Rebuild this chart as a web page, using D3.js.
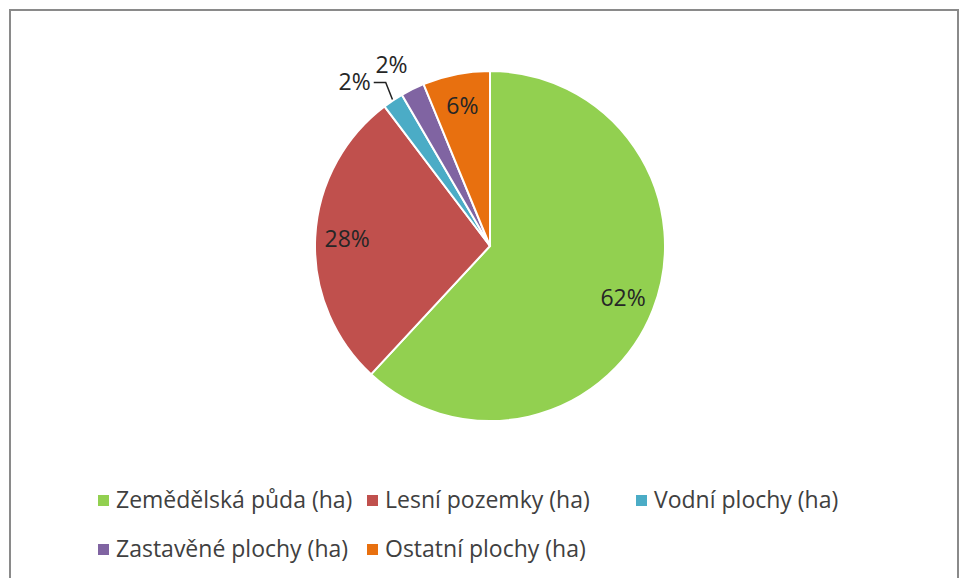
<!DOCTYPE html>
<html>
<head>
<meta charset="utf-8">
<script src="https://cdn.jsdelivr.net/npm/d3@7"></script>
<style>
  body { margin: 0; background: #fff; }
  text { font-family: "Open Sans", Lato, sans-serif; }
</style>
</head>
<body>
<div id="chart"></div>
<script>
// data (percent of total area)
var categories = ["Zemědělská půda (ha)", "Lesní pozemky (ha)", "Vodní plochy (ha)", "Zastavěné plochy (ha)", "Ostatní plochy (ha)"];
var values = [61.9, 27.8, 1.9, 2.2, 6.2];
var labels = ["62%", "28%", "2%", "2%", "6%"];
var colors = ["#92d050", "#c0504d", "#4bacc6", "#8064a2", "#e8700f"];

var W = 959, H = 578;
var cx = 490, cy = 246, radius = 175;
var fs = 23;

var svg = d3.select("#chart").append("svg")
    .attr("width", W)
    .attr("height", H);

// chart frame
svg.append("rect")
    .attr("x", 10).attr("y", 10)
    .attr("width", 948).attr("height", 620)
    .attr("fill", "#fff")
    .attr("stroke", "#8a8a8a")
    .attr("stroke-width", 2);

var data = categories.map(function (c, i) {
    return { name: c, value: values[i], label: labels[i], color: colors[i] };
});

var pie = d3.pie().sort(null).value(function (d) { return d.value; });
var arcs = pie(data);

var arc = d3.arc().innerRadius(0).outerRadius(radius);
var labelArc = d3.arc().innerRadius(143).outerRadius(143);

var g = svg.append("g").attr("transform", "translate(" + cx + "," + cy + ")");

g.selectAll(".slice")
    .data(arcs)
    .enter().append("path")
    .attr("class", "slice")
    .attr("d", arc)
    .attr("fill", function (d) { return d.data.color; })
    .attr("stroke", "#fff")
    .attr("stroke-width", 2);

function pt(a, r) {
    return [Math.sin(a) * r, -Math.cos(a) * r];
}

arcs.forEach(function (d, i) {
    var mid = (d.startAngle + d.endAngle) / 2;
    var share = d.endAngle - d.startAngle;
    if (share > 0.2) {
        var c = labelArc.centroid(d);
        g.append("text")
            .attr("x", c[0]).attr("y", c[1])
            .attr("dy", "0.35em")
            .attr("text-anchor", "middle")
            .attr("font-size", fs)
            .attr("fill", "#262626")
            .text(d.data.label);
    } else if (i == 2) {
        // leader line label
        var p0 = pt(mid, radius + 1);
        var p1 = pt(mid + 0.02, radius + 19);
        var p2 = [p1[0] - 12, p1[1]];
        g.append("path")
            .attr("d", "M" + p0 + "L" + p1 + "L" + p2)
            .attr("fill", "none")
            .attr("stroke", "#222")
            .attr("stroke-width", 1.5);
        g.append("text")
            .attr("x", p2[0] - 3).attr("y", p2[1])
            .attr("dy", "0.35em")
            .attr("text-anchor", "end")
            .attr("font-size", fs)
            .attr("fill", "#262626")
            .text(d.data.label);
    } else {
        var p = pt(mid - 0.04, 206);
        g.append("text")
            .attr("x", p[0]).attr("y", p[1])
            .attr("dy", "0.35em")
            .attr("text-anchor", "middle")
            .attr("font-size", fs)
            .attr("fill", "#262626")
            .text(d.data.label);
    }
});

// legend
var legX = [98, 367, 636, 98, 367];
var legY = [500, 500, 500, 549, 549];

var leg = svg.selectAll(".leg")
    .data(data)
    .enter().append("g")
    .attr("class", "leg")
    .attr("transform", function (d, i) { return "translate(" + legX[i] + "," + legY[i] + ")"; });

leg.append("rect")
    .attr("x", 0).attr("y", -5)
    .attr("width", 11).attr("height", 11)
    .attr("fill", function (d) { return d.color; });

leg.append("text")
    .attr("x", 18).attr("y", 0)
    .attr("dy", "0.36em")
    .attr("font-size", fs)
    .attr("fill", "#404040")
    .text(function (d) { return d.name; });
</script>
</body>
</html>
